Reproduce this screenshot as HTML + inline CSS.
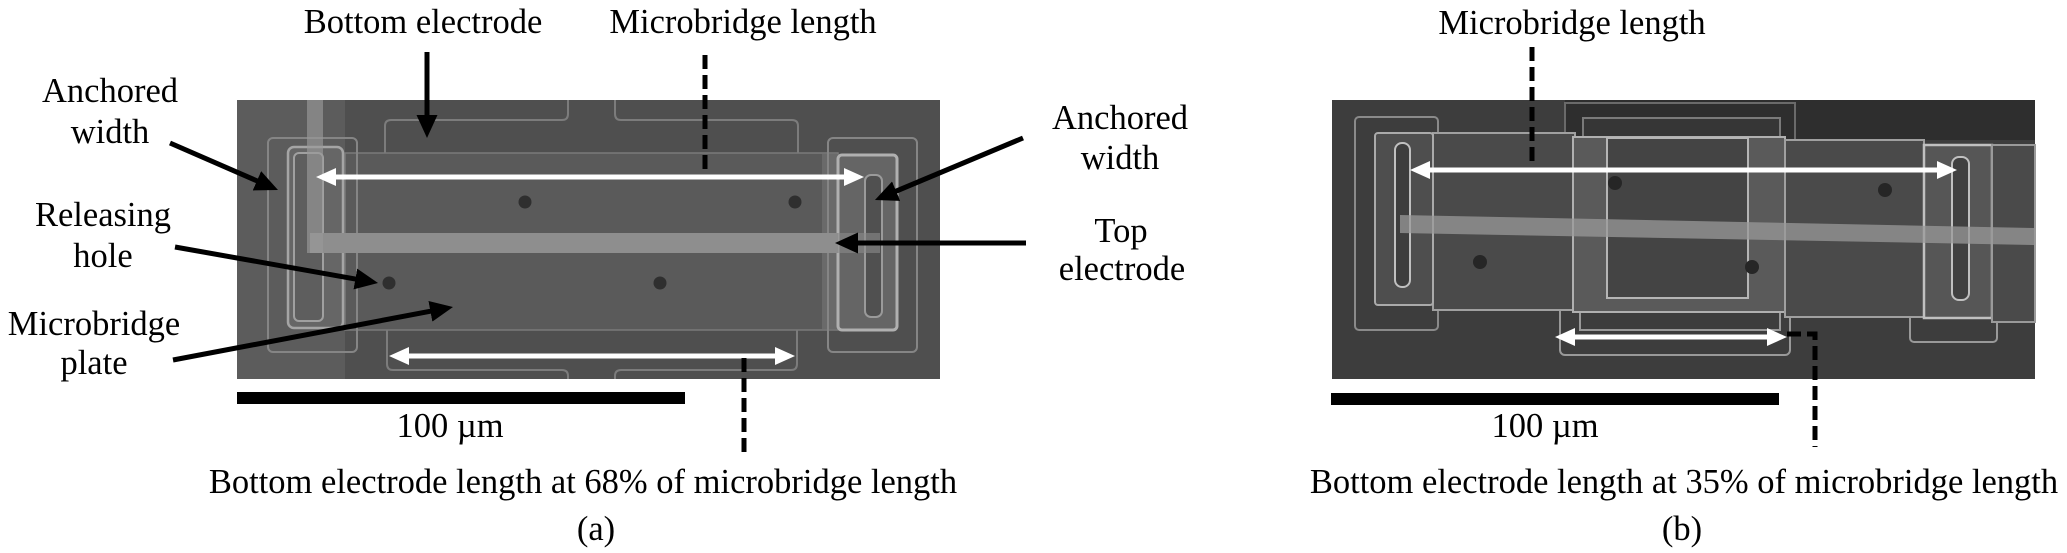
<!DOCTYPE html>
<html><head><meta charset="utf-8"><style>
html,body{margin:0;padding:0;background:#fff;}
svg{display:block;}
svg text{font-family:"Liberation Serif","Times New Roman",serif;font-size:34.5px;fill:#000;}
</style></head><body>
<svg width="2067" height="553" viewBox="0 0 2067 553" xmlns="http://www.w3.org/2000/svg">
<defs>
<marker id="bk" markerUnits="userSpaceOnUse" markerWidth="24" markerHeight="22" refX="11" refY="10.5" orient="auto"><path d="M0,0 L23,10.5 L0,21 z" fill="#000"/></marker>
<marker id="wh" markerUnits="userSpaceOnUse" markerWidth="21" markerHeight="19" refX="9" refY="9" orient="auto-start-reverse"><path d="M0,0 L20,9 L0,18 z" fill="#fff"/></marker>
</defs>
<rect width="2067" height="553" fill="#fff"/>

<!-- ===== Panel (a) SEM ===== -->
<rect x="237" y="100" width="703" height="279" fill="#4f4f4f"/>
<rect x="237" y="100" width="108" height="279" fill="#5c5c5c"/>
<g stroke="#7c7c7c" stroke-width="2" fill="none">
<path d="M385,153 V126 Q385,120 391,120 H562 Q568,120 568,114 V100"/>
<path d="M615,100 V114 Q615,120 621,120 H792 Q798,120 798,126 V153"/>
<path d="M387,330 V364 Q387,370 393,370 H562 Q568,370 568,376 V379"/>
<path d="M615,379 V376 Q615,370 621,370 H791 Q797,370 797,364 V330"/>
</g>
<rect x="345" y="153" width="493" height="177" fill="#5a5a5a" stroke="#7a7a7a" stroke-width="1.5"/>
<rect x="822" y="154" width="16" height="175" fill="#6a6a6a"/>
<rect x="268" y="138" width="89" height="214" rx="5" fill="none" stroke="#858585" stroke-width="2"/>
<rect x="288" y="147" width="55" height="181" rx="6" fill="#666" stroke="#a5a5a5" stroke-width="2.5"/>
<rect x="294" y="153" width="29" height="168" rx="5" fill="#5e5e5e" stroke="#a0a0a0" stroke-width="2"/>
<rect x="828" y="138" width="89" height="214" rx="5" fill="none" stroke="#858585" stroke-width="2"/>
<rect x="838" y="155" width="59" height="175" rx="4" fill="#656565" stroke="#b0b0b0" stroke-width="3"/>
<rect x="865" y="175" width="17" height="142" rx="6" fill="#505050" stroke="#9a9a9a" stroke-width="2"/>
<rect x="310" y="233" width="528" height="20" fill="#8e8e8e"/>
<rect x="838" y="233" width="42" height="20" fill="#8a8a8a" fill-opacity="0.6"/>
<rect x="307" y="100" width="16" height="153" fill="#9a9a9a" fill-opacity="0.65"/>
<g fill="#2f2f2f">
<circle cx="525" cy="202" r="6.5"/><circle cx="795" cy="202" r="6.5"/>
<circle cx="389" cy="283" r="6.5"/><circle cx="660" cy="283" r="6.5"/>
</g>
<line x1="327" y1="177" x2="853" y2="177" stroke="#fff" stroke-width="5" marker-start="url(#wh)" marker-end="url(#wh)"/>
<line x1="400" y1="356" x2="784" y2="356" stroke="#fff" stroke-width="5" marker-start="url(#wh)" marker-end="url(#wh)"/>
<line x1="705" y1="55" x2="705" y2="173" stroke="#000" stroke-width="5" stroke-dasharray="14 6"/>
<line x1="744" y1="358" x2="744" y2="455" stroke="#000" stroke-width="5" stroke-dasharray="14 6"/>
<g stroke="#000" stroke-width="5" marker-end="url(#bk)">
<line x1="427" y1="52" x2="427" y2="126"/>
<line x1="170" y1="143" x2="267" y2="185.2"/>
<line x1="175" y1="247" x2="366.2" y2="280.9"/>
<line x1="173" y1="360" x2="441.2" y2="309.2"/>
<line x1="1023" y1="138" x2="886" y2="195.4"/>
<line x1="1026" y1="243" x2="847" y2="243"/>
</g>
<rect x="237" y="392" width="448" height="12" fill="#000"/>

<!-- ===== Panel (b) SEM ===== -->
<rect x="1332" y="100" width="703" height="279" fill="#3d3d3d"/>
<rect x="1565" y="100" width="470" height="40" fill="#2e2e2e"/>
<rect x="1355" y="117" width="83" height="213" rx="4" fill="none" stroke="#8a8a8a" stroke-width="2"/>
<rect x="1560" y="300" width="230" height="55" rx="5" fill="#3d3d3d" stroke="#999" stroke-width="2"/>
<path d="M1580,310 V330 H1780 V310" fill="none" stroke="#999" stroke-width="2"/>
<rect x="1910" y="300" width="87" height="42" rx="4" fill="#3d3d3d" stroke="#999" stroke-width="2"/>
<rect x="1565" y="103" width="230" height="60" fill="none" stroke="#6a6a6a" stroke-width="2"/>
<rect x="1583" y="118" width="197" height="40" fill="#363636" stroke="#7a7a7a" stroke-width="2"/>
<rect x="1433" y="133" width="142" height="177" fill="#4a4a4a" stroke="#a0a0a0" stroke-width="2"/>
<rect x="1573" y="137" width="212" height="175" fill="#5a5a5a" stroke="#b0b0b0" stroke-width="2"/>
<rect x="1607" y="138" width="141" height="160" fill="#444" stroke="#b5b5b5" stroke-width="2"/>
<rect x="1785" y="140" width="139" height="177" fill="#4a4a4a" stroke="#a0a0a0" stroke-width="2"/>
<rect x="1924" y="145" width="68" height="173" fill="#565656" stroke="#c0c0c0" stroke-width="2.5"/>
<rect x="1992" y="145" width="43" height="177" fill="#4a4a4a" stroke="#9a9a9a" stroke-width="2"/>
<rect x="1375" y="133" width="58" height="172" rx="3" fill="#4e4e4e" stroke="#aaa" stroke-width="2"/>
<rect x="1395" y="143" width="15" height="144" rx="7" fill="#3e3e3e" stroke="#c0c0c0" stroke-width="2"/>
<rect x="1952" y="157" width="17" height="143" rx="7" fill="#404040" stroke="#c0c0c0" stroke-width="2"/>
<polygon points="1400,215 2035,228 2035,245 1400,233" fill="#9a9a9a" fill-opacity="0.75"/>
<g fill="#262626">
<circle cx="1615" cy="183" r="7"/><circle cx="1480" cy="262" r="7"/>
<circle cx="1752" cy="267" r="7"/><circle cx="1885" cy="190" r="7"/>
</g>
<line x1="1421" y1="170" x2="1946" y2="170" stroke="#fff" stroke-width="5" marker-start="url(#wh)" marker-end="url(#wh)"/>
<line x1="1566" y1="337" x2="1776" y2="337" stroke="#fff" stroke-width="5" marker-start="url(#wh)" marker-end="url(#wh)"/>
<line x1="1532" y1="47" x2="1532" y2="165" stroke="#000" stroke-width="5" stroke-dasharray="14 6"/>
<path d="M1787,334 H1815 V447" fill="none" stroke="#000" stroke-width="5" stroke-dasharray="14 6"/>
<rect x="1331" y="393" width="448" height="12" fill="#000"/>

<!-- labels -->
<g font-family="Liberation Serif, Times New Roman, serif" font-size="34.5" fill="#000">
<text x="423" y="33" text-anchor="middle">Bottom electrode</text>
<text x="743" y="33" text-anchor="middle">Microbridge length</text>
<text x="110" y="102" text-anchor="middle">Anchored</text>
<text x="110" y="143" text-anchor="middle">width</text>
<text x="103" y="226" text-anchor="middle">Releasing</text>
<text x="103" y="267" text-anchor="middle">hole</text>
<text x="94" y="335" text-anchor="middle">Microbridge</text>
<text x="94" y="374" text-anchor="middle">plate</text>
<text x="1120" y="129" text-anchor="middle">Anchored</text>
<text x="1120" y="169" text-anchor="middle">width</text>
<text x="1121" y="242" text-anchor="middle">Top</text>
<text x="1122" y="280" text-anchor="middle">electrode</text>
<text x="450" y="437" text-anchor="middle">100 µm</text>
<text x="583" y="493" text-anchor="middle">Bottom electrode length at 68% of microbridge length</text>
<text x="596" y="540" text-anchor="middle">(a)</text>
<text x="1572" y="34" text-anchor="middle">Microbridge length</text>
<text x="1545" y="437" text-anchor="middle">100 µm</text>
<text x="1684" y="493" text-anchor="middle">Bottom electrode length at 35% of microbridge length</text>
<text x="1682" y="540" text-anchor="middle">(b)</text>
</g>
</svg>
</body></html>
